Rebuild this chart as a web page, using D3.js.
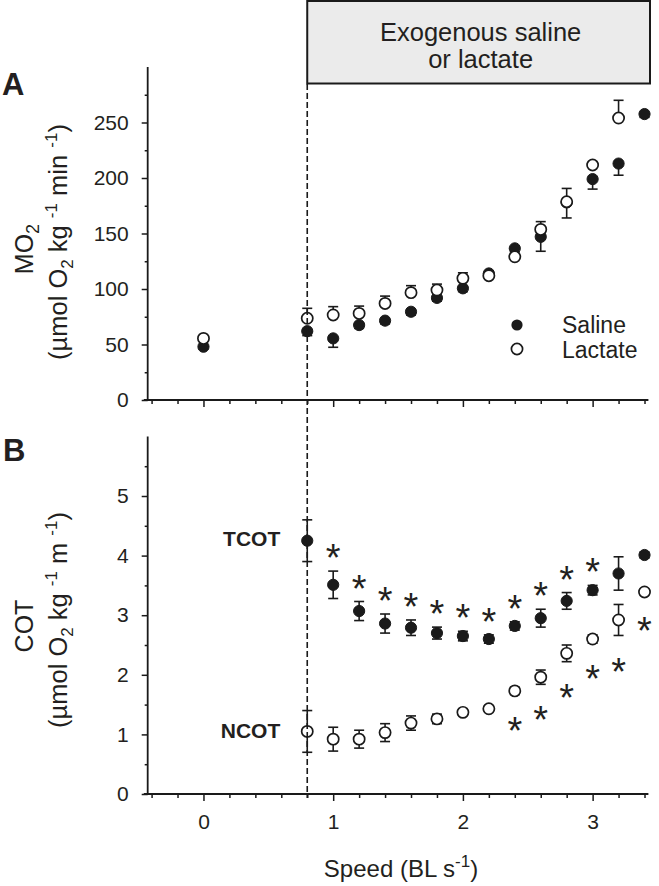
<!DOCTYPE html>
<html lang="en">
<head>
<meta charset="UTF-8">
<title>MO2 and COT vs swimming speed</title>
<script src="https://d3js.org/d3.v7.min.js"></script>
<style>
  body { margin: 0; background: #fff; }
  svg text { font-family: "Liberation Sans", Arial, Helvetica, sans-serif; fill: #231f20; }
</style>
</head>
<body>
<svg id="chart" width="659" height="886"></svg>
<script>
// speeds (BL s-1)
const speeds = [0, 0.8, 1.0, 1.2, 1.4, 1.6, 1.8, 2.0, 2.2, 2.4, 2.6, 2.8, 3.0, 3.2, 3.4];

// panel A: MO2
const mo2Saline    = [48, 62, 55.5, 67.5, 71.5, 79.5, 92, 100.6, 114, 136.6, 147, 178, 199, 213, 257.6];
const mo2SalineSE  = [2, 4, 8, 3, 3, 3, 3, 3, 3, 3, 13, 14, 9, 10.5, 3];
const mo2Lactate   = [55.5, 73.6, 76.6, 78, 87, 96.7, 99, 109.6, 112, 129, 153.7, 178.6, 211.7, 254, null];
const mo2LactateSE = [2, 9, 7.5, 6.6, 6.6, 6.3, 5.4, 5, 3, 3, 7, 12, 3, 16, null];

// panel B: COT
const cotSaline    = [null, 4.25, 3.51, 3.07, 2.86, 2.79, 2.70, 2.65, 2.60, 2.82, 2.95, 3.24, 3.42, 3.70, 4.01];
const cotSalineSE  = [null, 0.35, 0.23, 0.16, 0.16, 0.13, 0.10, 0.08, 0.07, 0.07, 0.15, 0.14, 0.08, 0.28, 0.05];
const cotLactate   = [null, 1.05, 0.92, 0.92, 1.03, 1.19, 1.26, 1.37, 1.43, 1.73, 1.96, 2.36, 2.60, 2.92, 3.39];
const cotLactateSE = [null, 0.35, 0.20, 0.15, 0.15, 0.12, 0.08, 0.05, 0.05, 0.06, 0.12, 0.14, 0.07, 0.26, 0.05];

// significance (*) in panel B
const sigSaline  = [1.0, 1.2, 1.4, 1.6, 1.8, 2.0, 2.2, 2.4, 2.6, 2.8, 3.0];
const sigLactate = [2.4, 2.6, 2.8, 3.0, 3.2, 3.4];

// ticks
const xMajor = [0, 1, 2, 3];
const xMinor = d3.range(-0.4, 3.41, 0.2).map(v => +v.toFixed(1)).filter(v => !xMajor.includes(v));
const yMajorA = [0, 50, 100, 150, 200, 250];
const yMinorA = [25, 75, 125, 175, 225, 275];
const yMajorB = [0, 1, 2, 3, 4, 5];
const yMinorB = [0.5, 1.5, 2.5, 3.5, 4.5, 5.5];

const infusionStart = 0.8;

const svg = d3.select("#chart");
const ink = "#1a1a1a";

const x = d3.scaleLinear().domain([-0.46, 3.43]).range([143.8, 648.4]);
const yAxisX = x(-0.43);
const yA = d3.scaleLinear().domain([0, 300]).range([400, 67]);
const yB = d3.scaleLinear().domain([0, 6]).range([794, 436.4]);

// text with sub/superscripts; the offset is undone on the next piece
function rich(textSel, parts, small) {
  let back = 0;
  parts.forEach(([t, kind]) => {
    const ts = textSel.append("tspan").text(t);
    let dy = back;
    back = 0;
    if (kind === "sub") { ts.attr("font-size", small); dy += 6; back = -6; }
    if (kind === "sup") { ts.attr("font-size", small); dy -= 10; back = 10; }
    if (dy) ts.attr("dy", dy);
  });
}

function panel(y, yMajor, yMinor, showXLabels) {
  const g = svg.append("g");
  // y axis
  const ay = g.append("g").attr("transform", `translate(${yAxisX},0)`);
  ay.call(d3.axisLeft(y).tickValues(yMajor).tickSize(6).tickPadding(13).tickFormat(d3.format("d")))
    .call(s => s.select(".domain").remove());
  ay.append("g").call(d3.axisLeft(y).tickValues(yMinor).tickSize(3))
    .call(s => s.select(".domain").remove())
    .call(s => s.selectAll("text").remove());
  ay.selectAll("line").attr("stroke", ink).attr("stroke-width", 1.5);
  ay.selectAll("text").attr("font-size", 21).attr("fill", "#231f20");
  ay.append("line").attr("y1", y.range()[0]).attr("y2", y.range()[1])
    .attr("stroke", ink).attr("stroke-width", 1.8);

  // x axis
  const ax = g.append("g").attr("transform", `translate(0,${y.range()[0]})`);
  ax.call(d3.axisBottom(x).tickValues(xMajor).tickSize(7).tickPadding(13).tickFormat(d3.format("d")))
    .call(s => s.select(".domain").remove());
  if (!showXLabels) ax.selectAll("text").remove();
  ax.append("g").call(d3.axisBottom(x).tickValues(xMinor).tickSize(4))
    .call(s => s.select(".domain").remove())
    .call(s => s.selectAll("text").remove());
  ax.selectAll("line").attr("stroke", ink).attr("stroke-width", 1.5);
  ax.selectAll("text").attr("font-size", 21).attr("fill", "#231f20");
  ax.append("line").attr("x1", x.range()[0]).attr("x2", x.range()[1])
    .attr("stroke", ink).attr("stroke-width", 1.8);
  return g;
}

function series(g, y, vals, se, filled, dir) {
  const pts = speeds.map((s, i) => ({ s, v: vals[i], e: se[i] })).filter(d => d.v != null);
  const eb = g.append("g").attr("stroke", ink).attr("stroke-width", 1.6);
  pts.forEach(d => {
    const lo = dir === "up" ? d.v : d.v - d.e;
    const hi = dir === "down" ? d.v : d.v + d.e;
    const cx = x(d.s);
    eb.append("line").attr("x1", cx).attr("x2", cx).attr("y1", y(lo)).attr("y2", y(hi));
    if (dir !== "down") eb.append("line").attr("x1", cx - 5).attr("x2", cx + 5).attr("y1", y(hi)).attr("y2", y(hi));
    if (dir !== "up") eb.append("line").attr("x1", cx - 5).attr("x2", cx + 5).attr("y1", y(lo)).attr("y2", y(lo));
  });
  g.append("g").selectAll("circle").data(pts).join("circle")
    .attr("cx", d => x(d.s)).attr("cy", d => y(d.v)).attr("r", 5.6)
    .attr("fill", filled ? ink : "#fff")
    .attr("stroke", ink).attr("stroke-width", filled ? 1 : 1.7);
}

// infusion box
const boxRight = 650;
svg.append("rect").attr("x", x(infusionStart)).attr("y", 1)
  .attr("width", boxRight - x(infusionStart)).attr("height", 82.5)
  .attr("fill", "#ebebeb").attr("stroke", ink).attr("stroke-width", 2);
const boxCx = (x(infusionStart) + boxRight) / 2;
svg.append("text").attr("x", boxCx + 2).attr("y", 40.5).attr("text-anchor", "middle")
  .attr("font-size", 25.5).text("Exogenous saline");
svg.append("text").attr("x", boxCx + 2).attr("y", 68.3).attr("text-anchor", "middle")
  .attr("font-size", 25.5).text("or lactate");

// panel A
const gA = panel(yA, yMajorA, yMinorA, false);
// panel B
const gB = panel(yB, yMajorB, yMinorB, true);

// dashed infusion line
svg.append("line").attr("x1", x(infusionStart)).attr("x2", x(infusionStart))
  .attr("y1", 84).attr("y2", yB(0) + 4)
  .attr("stroke", ink).attr("stroke-width", 1.6).attr("stroke-dasharray", "6,3");

series(gA, yA, mo2Saline, mo2SalineSE, true, "down");
series(gA, yA, mo2Lactate, mo2LactateSE, false, "up");
series(gB, yB, cotSaline, cotSalineSE, true, "both");
series(gB, yB, cotLactate, cotLactateSE, false, "both");

// asterisks
const astSize = 38;
sigSaline.forEach(s => {
  const i = speeds.indexOf(s);
  const top = yB(cotSaline[i] + cotSalineSE[i]) - 22;
  gB.append("text").attr("x", x(s)).attr("y", top + 0.58 * astSize)
    .attr("text-anchor", "middle").attr("font-size", astSize).text("*");
});
sigLactate.forEach(s => {
  const i = speeds.indexOf(s);
  const bot = yB(cotLactate[i] - cotLactateSE[i]) + 27;
  gB.append("text").attr("x", x(s)).attr("y", bot + 0.58 * astSize)
    .attr("text-anchor", "middle").attr("font-size", astSize).text("*");
});

// TCOT / NCOT labels
gB.append("text").attr("x", x(infusionStart) - 27).attr("y", yB(cotSaline[1]) + 5)
  .attr("text-anchor", "end").attr("font-size", 21).attr("font-weight", "bold").text("TCOT");
gB.append("text").attr("x", x(infusionStart) - 27).attr("y", yB(cotLactate[1]) + 7)
  .attr("text-anchor", "end").attr("font-size", 21).attr("font-weight", "bold").text("NCOT");

// legend
const lg = svg.append("g");
lg.append("circle").attr("cx", 517).attr("cy", 325).attr("r", 5.6).attr("fill", ink);
lg.append("circle").attr("cx", 517).attr("cy", 349).attr("r", 5.6).attr("fill", "#fff")
  .attr("stroke", ink).attr("stroke-width", 1.7);
lg.append("text").attr("x", 562).attr("y", 332.5).attr("font-size", 23).text("Saline");
lg.append("text").attr("x", 562).attr("y", 357.5).attr("font-size", 23).text("Lactate");

// panel letters
svg.append("text").attr("x", 2).attr("y", 95).attr("font-size", 31).attr("font-weight", "bold").text("A");
svg.append("text").attr("x", 3).attr("y", 461).attr("font-size", 31).attr("font-weight", "bold").text("B");

// axis titles
const tA1 = svg.append("text").attr("transform", "translate(33,249) rotate(-90)")
  .attr("text-anchor", "middle").attr("font-size", 25);
rich(tA1, [["MO", null], ["2", "sub"]], 18);
const tA2 = svg.append("text").attr("transform", "translate(67,242) rotate(-90)")
  .attr("text-anchor", "middle").attr("font-size", 25.5);
rich(tA2, [["(µmol O", null], ["2", "sub"], [" kg ", null], ["-1", "sup"], [" min ", null], ["-1", "sup"], [")", null]], 17);

svg.append("text").attr("transform", "translate(33,626) rotate(-90)")
  .attr("text-anchor", "middle").attr("font-size", 25).text("COT");
const tB2 = svg.append("text").attr("transform", "translate(67,620) rotate(-90)")
  .attr("text-anchor", "middle").attr("font-size", 25.5);
rich(tB2, [["(µmol O", null], ["2", "sub"], [" kg ", null], ["-1", "sup"], [" m ", null], ["-1", "sup"], [")", null]], 17);

const tX = svg.append("text").attr("x", 401).attr("y", 877).attr("text-anchor", "middle").attr("font-size", 24);
rich(tX, [["Speed (BL s", null], ["-1", "sup"], [")", null]], 17);
</script>
</body>
</html>
